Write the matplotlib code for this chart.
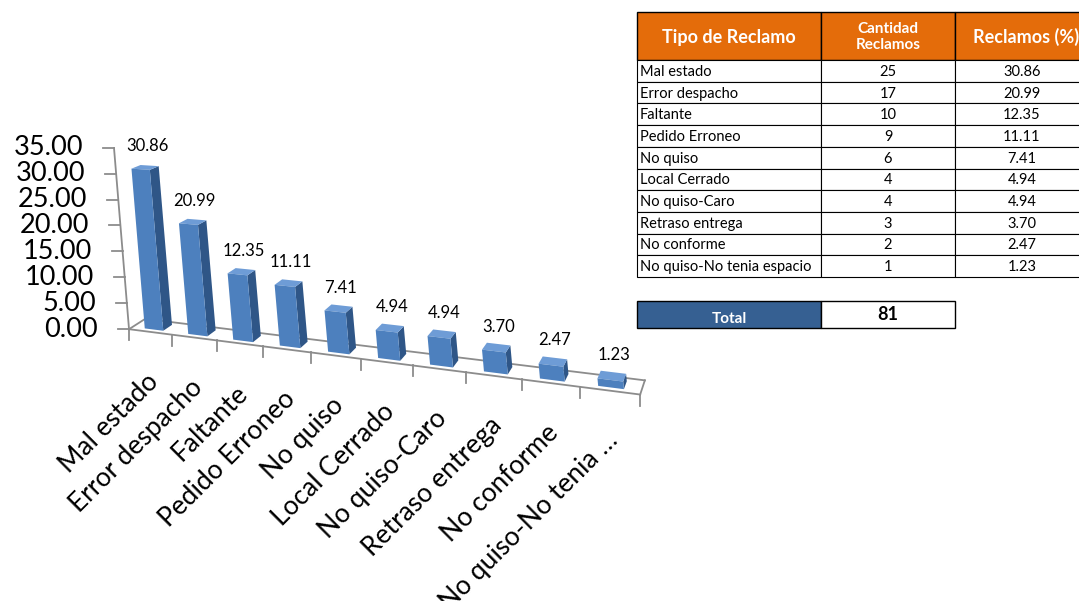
import numpy as np
import matplotlib.pyplot as plt
from matplotlib.patches import Polygon, Rectangle

# datos de la tabla
tipos = ['Mal estado', 'Error despacho', 'Faltante', 'Pedido Erroneo', 'No quiso',
         'Local Cerrado', 'No quiso-Caro', 'Retraso entrega', 'No conforme',
         'No quiso-No tenia espacio']
cantidad = [25, 17, 10, 9, 6, 4, 4, 3, 2, 1]
porcentaje = [30.86, 20.99, 12.35, 11.11, 7.41, 4.94, 4.94, 3.70, 2.47, 1.23]
y_ticks = [0, 5, 10, 15, 20, 25, 30, 35]
encabezado = ['Tipo de Reclamo', 'Cantidad\nReclamos', 'Reclamos (%)']

plt.rcParams['font.family'] = ['Lato', 'DejaVu Sans']

W, H = 1079, 601
fig = plt.figure(figsize=(W / 100, H / 100), dpi=100)
ax = fig.add_axes([0, 0, 1, 1])
ax.set_xlim(0, W)
ax.set_ylim(H, 0)
ax.axis('off')

n = len(tipos)
ymax = y_ticks[-1]

# where the corners of the 3d box land on the page (category, value, depth) -> px, weight
box = [((0, 0, 0), (129, 329), 3), ((n, 0, 0), (640, 395), 2),
       ((0, 0, 1), (145, 320), 1), ((n, 0, 1), (645, 379), 1),
       ((0, ymax, 0), (114, 148), 4), ((n / 2, 0, 0), (362, 359), 1),
       ((n, ymax, 0), (620, 176), 1)]


def fit_camera(pairs):
    rows = []
    for (x, y, z), (u, v), w in pairs:
        X = np.array([x / n, y / ymax, z, 1.0])
        u, v = u / 1000, v / 1000
        rows.append(w * np.r_[X, np.zeros(4), -u * X])
        rows.append(w * np.r_[np.zeros(4), X, -v * X])
    _, _, vt = np.linalg.svd(np.array(rows))
    return vt[-1].reshape(3, 4)


P = fit_camera(box)


def proj(x, y, z):
    h = P @ np.array([x / n, y / ymax, z, 1.0])
    return 1000 * h[0] / h[2], 1000 * h[1] / h[2]


grey = '#8C8C8C'

# floor + axis
for a, b in [((0, 0, 0), (n, 0, 0)), ((0, 0, 1), (n, 0, 1)),
             ((0, 0, 0), (0, 0, 1)), ((n, 0, 0), (n, 0, 1)),
             ((0, 0, 0), (0, ymax, 0))]:
    pa, pb = proj(*a), proj(*b)
    ax.plot([pa[0], pb[0]], [pa[1], pb[1]], color=grey, lw=1.3, zorder=1)

for t in y_ticks:
    u, v = proj(0, t, 0)
    ax.plot([u - 11, u], [v, v], color=grey, lw=1.3, zorder=1)
    ax.text(u - 31, v, f'{t:.2f}', ha='right', va='center', fontsize=19.5)

for k in range(n + 1):
    u, v = proj(k, 0, 0)
    ax.plot([u, u], [v, v + 11], color=grey, lw=1.3, zorder=1)

# bars
bw, z0, z1 = 0.43, 0.22, 0.78
for i, val in enumerate(porcentaje):
    xa, xb = i + 0.5 - bw / 2, i + 0.5 + bw / 2
    side = [proj(xb, 0, z0), proj(xb, 0, z1), proj(xb, val, z1), proj(xb, val, z0)]
    top = [proj(xa, val, z0), proj(xb, val, z0), proj(xb, val, z1), proj(xa, val, z1)]
    front = [proj(xa, 0, z0), proj(xb, 0, z0), proj(xb, val, z0), proj(xa, val, z0)]
    ax.add_patch(Polygon(side, closed=True, fc='#2F5687', ec='none', zorder=2))
    ax.add_patch(Polygon(top, closed=True, fc='#6E9CD6', ec='none', zorder=2))
    ax.add_patch(Polygon(front, closed=True, fc='#4D80BE', ec='none', zorder=2))
    u, v = proj(i + 0.5, val, 0.5)
    ax.text(u + 2, v - 21, f'{val:.2f}', ha='center', va='center', fontsize=12, zorder=3)

for i, t in enumerate(tipos):
    short = t if len(t) <= 20 else t[:17] + ' …'
    u, v = proj(i + 0.5, 0, 0)
    ax.text(u - 5, v + 37, short, rotation=45, rotation_mode='anchor',
            ha='right', va='top', fontsize=19)

# table
cols = [637, 821, 955, 1097]
head_top, head_bot, row_h = 12, 60, 21.7
for c in range(3):
    ax.add_patch(Rectangle((cols[c], head_top), cols[c + 1] - cols[c], head_bot - head_top,
                           fc='#E46C0A', ec='black', lw=1))
    fs = 11 if c == 1 else 13
    ax.text((cols[c] + cols[c + 1]) / 2, (head_top + head_bot) / 2 + 1, encabezado[c],
            ha='center', va='center', color='white', fontweight='bold', fontsize=fs,
            linespacing=1.25)

for r, (t, q, p) in enumerate(zip(tipos, cantidad, porcentaje)):
    y0 = head_bot + r * row_h
    for c in range(3):
        ax.add_patch(Rectangle((cols[c], y0), cols[c + 1] - cols[c], row_h,
                               fc='white', ec='black', lw=0.8))
    yc = y0 + row_h / 2 + 1
    ax.text(cols[0] + 3, yc, t, ha='left', va='center', fontsize=10.5)
    ax.text((cols[1] + cols[2]) / 2, yc, str(q), ha='center', va='center', fontsize=10.5)
    ax.text((cols[2] + cols[3]) / 2 - 4, yc, f'{p:.2f}', ha='center', va='center', fontsize=10.5)

tot_top, tot_bot = 301, 328
ax.add_patch(Rectangle((cols[0], tot_top), cols[1] - cols[0], tot_bot - tot_top,
                       fc='#366092', ec='black', lw=1))
ax.add_patch(Rectangle((cols[1], tot_top), cols[2] - cols[1], tot_bot - tot_top,
                       fc='white', ec='black', lw=1))
ax.text((cols[0] + cols[1]) / 2, tot_top + 18, 'Total', ha='center', va='center',
        color='white', fontweight='bold', fontsize=11)
ax.text((cols[1] + cols[2]) / 2, (tot_top + tot_bot) / 2, str(sum(cantidad)),
        ha='center', va='center', fontweight='bold', fontsize=13)

fig.savefig('out.png', dpi=100)
